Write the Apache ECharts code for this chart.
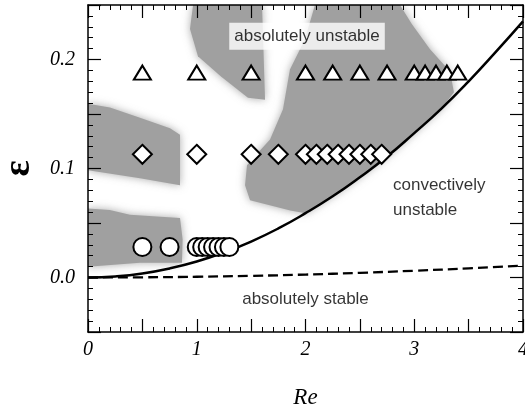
<!DOCTYPE html>
<html>
<head>
<meta charset="utf-8">
<script src="https://cdn.jsdelivr.net/npm/echarts@6/dist/echarts.min.js"></script>
<style>
  html, body { margin: 0; padding: 0; background: #fff; }
  #chart { width: 525px; height: 414px; }
</style>
</head>
<body>
<div id="chart"></div>
<script>
// Experimental runs: Reynolds number and forcing amplitude epsilon
const triangleRe  = [0.5, 1.0, 1.5, 2.0, 2.25, 2.5, 2.75, 3.0, 3.1, 3.2, 3.3, 3.4];
const triangleEps = [0.188, 0.188, 0.188, 0.188, 0.188, 0.188, 0.188, 0.188, 0.188, 0.188, 0.188, 0.188];

const diamondRe  = [0.5, 1.0, 1.5, 1.75, 2.0, 2.1, 2.2, 2.3, 2.4, 2.5, 2.6, 2.7];
const diamondEps = [0.113, 0.113, 0.113, 0.113, 0.113, 0.113, 0.113, 0.113, 0.113, 0.113, 0.113, 0.113];

const circleRe  = [0.5, 0.75, 1.0, 1.05, 1.1, 1.15, 1.2, 1.25, 1.3];
const circleEps = [0.028, 0.028, 0.028, 0.028, 0.028, 0.028, 0.028, 0.028, 0.028];

// Boundary between absolute and convective instability (solid)
const absBoundaryRe  = [0, 0.25, 0.5, 0.75, 1.0, 1.25, 1.5, 1.75, 2.0, 2.25, 2.5, 2.75, 3.0, 3.25, 3.5, 3.75, 4.0];
const absBoundaryEps = [0, 0.001, 0.0037, 0.0083, 0.0147, 0.023, 0.033, 0.045, 0.059, 0.0745, 0.092, 0.111, 0.1325, 0.155, 0.180, 0.207, 0.235];

// Boundary between convective instability and stability (dashed)
const stableBoundaryRe  = [0, 0.5, 1.0, 1.5, 2.0, 2.5, 3.0, 3.5, 4.0];
const stableBoundaryEps = [0, 0.0002, 0.0007, 0.0015, 0.0027, 0.0043, 0.0062, 0.0084, 0.011];

// Observed regions of irregular flow, as [Re, eps] outlines
const shadeLowerLeft = [[0, 0.0634], [0.2, 0.062], [0.386, 0.0575], [0.846, 0.0545], [0.87, 0.035], [0.864, 0.0136], [0.478, 0.0136], [0, 0.0099]];
const shadeMidLeft   = [[0, 0.1595], [0.202, 0.156], [0.478, 0.1465], [0.754, 0.137], [0.846, 0.131], [0.846, 0.0847], [0.478, 0.091], [0, 0.0985]];
const shadeTop       = [[0.966, 0.25], [1.60, 0.25], [1.628, 0.163], [1.471, 0.165], [1.223, 0.1845], [1.011, 0.203], [0.938, 0.228]];
const shadeRight     = [[2.087, 0.25], [2.869, 0.25], [2.979, 0.2323], [3.145, 0.2093], [3.329, 0.1890], [3.365, 0.170],
                        [3.25, 0.155], [3.0, 0.1325], [2.75, 0.111], [2.5, 0.092], [2.25, 0.0745], [2.0, 0.059], [1.86, 0.0615],
                        [1.49, 0.0708], [1.444, 0.0847], [1.462, 0.103], [1.563, 0.1145], [1.674, 0.1265], [1.793, 0.1543],
                        [1.857, 0.1909], [1.995, 0.2186]];
const shadeRegions = [shadeLowerLeft, shadeMidLeft, shadeTop, shadeRight];

// Region names written on the diagram
const regionLabels = ['absolutely unstable', 'convectively\nunstable', 'absolutely stable'];
const regionLabelAt = [[2.014, 0.2213], [2.80, 0.0731], [2.0, -0.020]];

const serif = 'Liberation Serif';
const sans = 'Liberation Sans';

function zip(xs, ys) { return xs.map((x, i) => [x, ys[i]]); }

function axisBase(extra) {
  return Object.assign({
    type: 'value',
    axisLine: { show: true, onZero: false, lineStyle: { color: '#000', width: 1.5 } },
    axisTick: { show: true, inside: true, length: 13, lineStyle: { color: '#000', width: 1.2 } },
    minorTick: { show: true, splitNumber: 5, length: 5, lineStyle: { color: '#000', width: 1 } },
    splitLine: { show: false },
    minorSplitLine: { show: false },
    z: 10
  }, extra);
}

const chart = echarts.init(document.getElementById('chart'), null, { renderer: 'canvas' });

chart.setOption({
  animation: false,
  backgroundColor: '#fff',
  grid: { left: 88, right: 2, top: 5, bottom: 82, containLabel: false, outerBoundsMode: 'none' },
  xAxis: [
    axisBase({
      min: 0, max: 4, interval: 0.5, position: 'bottom',
      axisLabel: {
        formatter: v => (Math.abs(v - Math.round(v)) < 1e-9 ? String(Math.round(v)) : ''),
        fontFamily: serif, fontStyle: 'italic', fontSize: 20, color: '#000', margin: 8
      },
      name: 'Re', nameLocation: 'middle', nameGap: 54,
      nameTextStyle: { fontFamily: serif, fontStyle: 'italic', fontSize: 23, color: '#000' }
    }),
    axisBase({ min: 0, max: 4, interval: 0.5, position: 'top', axisLabel: { show: false } })
  ],
  yAxis: [
    axisBase({
      min: -0.05, max: 0.25, interval: 0.05, position: 'left',
      axisLabel: {
        formatter: v => {
          const r = Math.round(v * 10);
          return Math.abs(v * 10 - r) < 1e-6 ? (r / 10).toFixed(1) : '';
        },
        fontFamily: serif, fontStyle: 'italic', fontSize: 20, color: '#000', margin: 13
      },
      name: 'ε', nameLocation: 'middle', nameGap: 50,
      nameTextStyle: { fontFamily: serif, fontSize: 38, fontWeight: 'bold', color: '#000' }
    }),
    axisBase({ min: -0.05, max: 0.25, interval: 0.05, position: 'right', axisLabel: { show: false } })
  ],
  series: [
    {
      type: 'custom',
      silent: true,
      clip: true,
      z: 1,
      data: shadeRegions.map((_, i) => [i, 0]),
      renderItem: (params, api) => {
        const poly = shadeRegions[params.dataIndex];
        return {
          type: 'polygon',
          shape: { points: poly.map(p => api.coord(p)) },
          style: { fill: '#a0a0a0', shadowBlur: 9, shadowColor: 'rgba(150,150,150,0.8)' }
        };
      }
    },
    {
      type: 'line', z: 2, smooth: true, showSymbol: false, silent: true,
      data: zip(absBoundaryRe, absBoundaryEps),
      lineStyle: { color: '#000', width: 2.5 }
    },
    {
      type: 'line', z: 2, smooth: true, showSymbol: false, silent: true,
      data: zip(stableBoundaryRe, stableBoundaryEps),
      lineStyle: { color: '#000', width: 2.3, type: [10, 5] }
    },
    {
      type: 'scatter', z: 3, symbol: 'triangle', symbolSize: [17, 14],
      data: zip(triangleRe, triangleEps),
      itemStyle: { color: '#fff', borderColor: '#000', borderWidth: 2, opacity: 1 }
    },
    {
      type: 'scatter', z: 3, symbol: 'diamond', symbolSize: [19, 19],
      data: zip(diamondRe, diamondEps),
      itemStyle: { color: '#fff', borderColor: '#000', borderWidth: 2, opacity: 1 }
    },
    {
      type: 'scatter', z: 3, symbol: 'circle', symbolSize: 18,
      data: zip(circleRe, circleEps),
      itemStyle: { color: '#fff', borderColor: '#000', borderWidth: 2, opacity: 1 }
    },
    {
      type: 'scatter', z: 4, symbolSize: 1, silent: true,
      itemStyle: { color: 'rgba(0,0,0,0)' },
      data: [
        {
          name: regionLabels[0], value: regionLabelAt[0],
          label: { show: true, position: 'inside', backgroundColor: '#fff', padding: [4, 5], lineHeight: 19 }
        },
        {
          name: regionLabels[1], value: regionLabelAt[1],
          label: { show: true, position: 'right', distance: 0, lineHeight: 25, align: 'left' }
        },
        {
          name: regionLabels[2], value: regionLabelAt[2],
          label: { show: true, position: 'inside' }
        }
      ],
      label: { formatter: '{b}', fontFamily: sans, fontSize: 17, color: '#000' }
    }
  ]
});
</script>
</body>
</html>
